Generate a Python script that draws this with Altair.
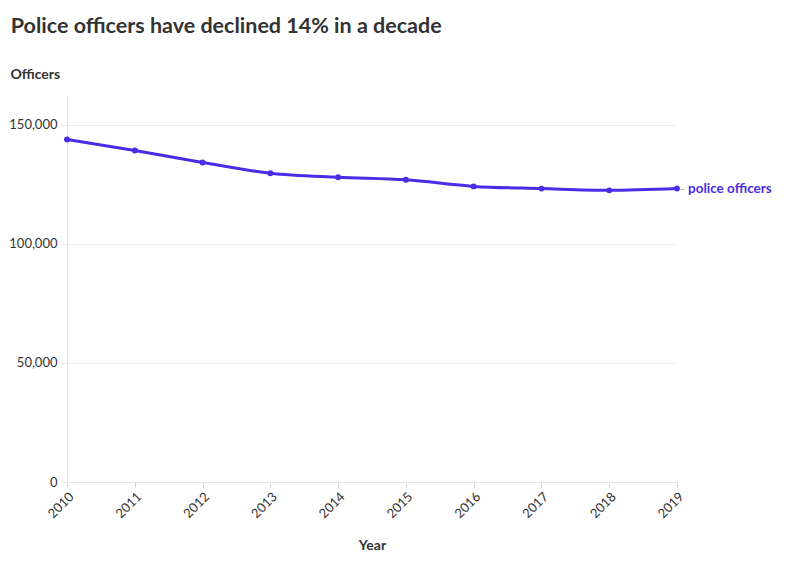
import altair as alt
import pandas as pd

years = [2010, 2011, 2012, 2013, 2014, 2015, 2016, 2017, 2018, 2019]
officers = [143734, 139110, 134101, 129584, 127909, 126818, 124066, 123142, 122404, 123171]
series_label = "police officers"

df = pd.DataFrame({"Year": years, "Officers": officers})
last = df.tail(1).assign(label=series_label)

COLOR = "#4a2ce6"
FONT = "Lato"

x = alt.X("Year:Q",
          scale=alt.Scale(domain=[2010, 2019], nice=False, zero=False),
          axis=alt.Axis(values=years, format="d", labelAngle=-45, title="Year",
                        titleFontSize=14, titleFontWeight="bold", titleColor="#333",
                        titlePadding=18, labelFontSize=13, labelColor="#333",
                        grid=False, domainColor="#e6e6e6", tickColor="#d0d0d0",
                        tickSize=5, labelPadding=3))
y = alt.Y("Officers:Q",
          scale=alt.Scale(domain=[0, 162000], nice=False),
          axis=alt.Axis(values=[0, 50000, 100000, 150000], format=",d", title="Officers",
                        titleAngle=0, titleAlign="left", titleBaseline="alphabetic",
                        titleX=-57, titleY=-18, titleFontSize=14, titleFontWeight="bold",
                        titleColor="#333", labelFontSize=13, labelColor="#333",
                        gridColor="#ececec", domainColor="#e6e6e6", tickColor="#e6e6e6",
                        tickSize=6, labelPadding=4))

base = alt.Chart(df)
line = base.mark_line(color=COLOR, strokeWidth=3, interpolate="monotone").encode(x=x, y=y)
pts = base.mark_point(color=COLOR, filled=True, opacity=1, size=35).encode(x=x, y=y)
dash = alt.Chart(last).mark_text(text="-", color="#aaaaaa", align="left", dx=3, fontSize=12,
                                 font=FONT).encode(x=x, y=y)
lab = alt.Chart(last).mark_text(color=COLOR, align="left", baseline="middle", dx=11,
                                fontSize=13.5, fontWeight="bold", font=FONT).encode(
    x=x, y=y, text="label:N")

chart = (line + pts + dash + lab).properties(
    width=610, height=386,
    padding={"left": 0, "top": 7, "right": 5, "bottom": 5},
    title=alt.TitleParams("Police officers have declined 14% in a decade", anchor="start",
                          fontSize=21.5, fontWeight="bold", color="#333", font=FONT,
                          offset=30, dx=2),
).configure(font=FONT).configure_view(stroke=None).configure_axis(
    labelFont=FONT, titleFont=FONT)

chart.save("out.html", embed_options={"renderer": "svg", "actions": False})
